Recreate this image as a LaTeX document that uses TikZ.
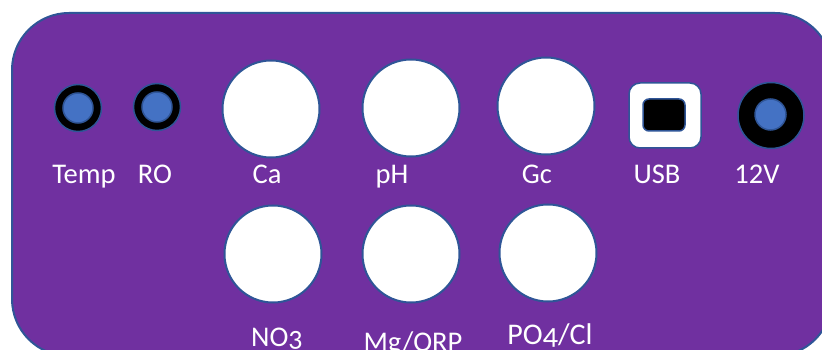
\documentclass[tikz,border=0pt]{standalone}
\usepackage{fontspec}
\setmainfont{Carlito}
\definecolor{panel}{HTML}{7030A0}
\definecolor{edge}{HTML}{2F5597}
\definecolor{jackblue}{HTML}{4472C4}
\tikzset{
  bigport/.style={circle, fill=white, draw=edge, line width=2pt, minimum size=97pt, inner sep=0pt},
  ring/.style={circle, fill=black, draw=edge, line width=1.5pt, inner sep=0pt},
  dot/.style={circle, fill=jackblue, draw=edge, line width=1.5pt, inner sep=0pt},
  lbl/.style={anchor=base, text=white, font=\fontsize{28.5}{32}\selectfont, inner sep=0pt}
}
\begin{document}
\begin{tikzpicture}[x=1pt,y=-1pt]
\useasboundingbox (0,0) rectangle (822,350);
\clip (0,0) rectangle (822,350);
\draw[fill=panel, draw=edge, line width=2pt, rounded corners=57pt] (12,13) rectangle (832,356);
% small jacks
\node[ring, minimum size=47pt] (tempring) at (78,108) {};
\node[dot, minimum size=30pt] (tempdot) at (78,108) {};
\node[ring, minimum size=47pt] (roring) at (157,107) {};
\node[dot, minimum size=30pt] (rodot) at (157,107) {};
% big ports top
\node[bigport] (ca) at (271,109) {};
\node[bigport] (ph) at (411,108) {};
\node[bigport] (gc) at (546,106) {};
% big ports bottom
\node[bigport] (no3) at (273,254) {};
\node[bigport] (mg) at (411,254) {};
\node[bigport] (po4) at (548,253) {};
% USB
\node[fill=white, draw=edge, line width=1.5pt, rounded corners=11pt, minimum width=72pt, minimum height=65pt, inner sep=0pt] (usb) at (665,115.5) {};
\node[fill=black, draw=edge, line width=1.5pt, rounded corners=6pt, minimum width=42pt, minimum height=32pt, inner sep=0pt] (usbhole) at (664,115) {};
% 12V jack
\node[ring, minimum size=66pt] (pwrring) at (771,115.5) {};
\node[dot, minimum size=31pt] (pwrdot) at (770.5,114.5) {};
% labels
\node[lbl] (ltemp) at (84,183.5) {Temp};
\node[lbl] (lro) at (155,183.5) {RO};
\node[lbl] (lca) at (267,183.5) {Ca};
\node[lbl] (lph) at (392,183.5) {pH};
\node[lbl] (lgc) at (537,183.5) {Gc};
\node[lbl] (lusb) at (657,183.5) {USB};
\node[lbl] (l12v) at (757,183.5) {12V};
\node[lbl] (lno3) at (277,346) {NO\addfontfeature{Numbers=OldStyle}3};
\node[lbl] (lmg) at (413,351) {Mg/ORP};
\node[lbl, font=\fontsize{30}{34}\selectfont] (lpo4) at (550,344) {PO\addfontfeature{Numbers=OldStyle}4/Cl};
\end{tikzpicture}
\end{document}
